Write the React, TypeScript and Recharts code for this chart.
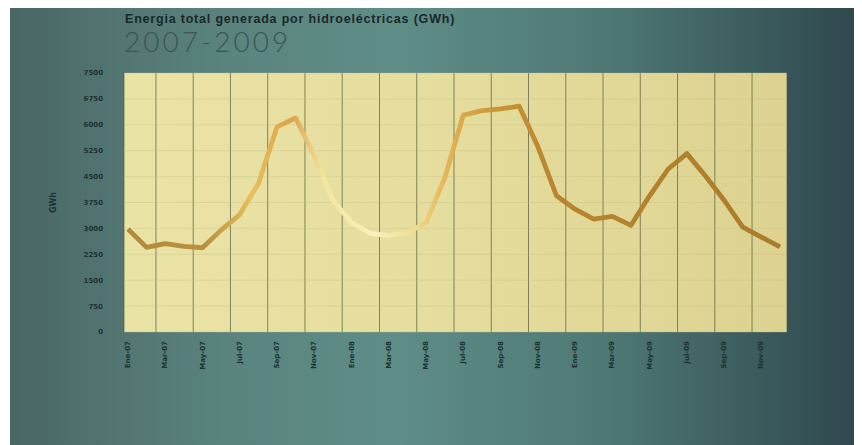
import React from "react";
import { LineChart, Line, XAxis, YAxis, CartesianGrid } from "recharts";

const months = [
  "Ene-07", "Feb-07", "Mar-07", "Abr-07", "May-07", "Jun-07", "Jul-07", "Ago-07", "Sep-07", "Oct-07", "Nov-07", "Dic-07",
  "Ene-08", "Feb-08", "Mar-08", "Abr-08", "May-08", "Jun-08", "Jul-08", "Ago-08", "Sep-08", "Oct-08", "Nov-08", "Dic-08",
  "Ene-09", "Feb-09", "Mar-09", "Abr-09", "May-09", "Jun-09", "Jul-09", "Ago-09", "Sep-09", "Oct-09", "Nov-09", "Dic-09",
];

const energyGWh = [
  2980, 2450, 2560, 2480, 2440, 2950, 3400, 4300, 5940, 6200, 5110, 3815,
  3165, 2855, 2790, 2880, 3165, 4460, 6280, 6410, 6460, 6540, 5370, 3945,
  3555, 3270, 3350, 3090, 3945, 4720, 5165, 4515, 3815, 3035, 2750, 2465,
];

const labelTicks = [0, 2, 4, 6, 8, 10, 12, 14, 16, 18, 20, 22, 24, 26, 28, 30, 32, 34];
const gridTicks = [1.5, 3.5, 5.5, 7.5, 9.5, 11.5, 13.5, 15.5, 17.5, 19.5, 21.5, 23.5, 25.5, 27.5, 29.5, 31.5, 33.5];
const yTicks = [0, 750, 1500, 2250, 3000, 3750, 4500, 5250, 6000, 6750, 7500];

const title = "Energia total generada por hidroeléctricas (GWh)";
const subtitle = "2007-2009";
const yLabel = "GWh";

const data = months.map((m, i) => ({ idx: i, month: m, value: energyGWh[i] }));

const XTick = (props: any) => {
  const { x, y, payload } = props;
  return (
    <text
      x={x}
      y={y}
      transform={`rotate(-90 ${x} ${y})`}
      textAnchor="end"
      dominantBaseline="central"
      fontSize={7}
      fontWeight="bold"
      fontFamily="DejaVu Sans, sans-serif"
      fill="#1d3233"
    >
      {months[payload.value]}
    </text>
  );
};

export default function App() {
  return (
    <div
      style={{
        position: "relative",
        width: 852,
        height: 437,
        marginLeft: 2,
        background:
          "linear-gradient(90deg, #4a6764 0%, #5a837e 25%, #5f8d87 45%, #4e7874 70%, #2e474d 100%)",
        overflow: "hidden",
      }}
    >
      <div
        style={{
          position: "absolute",
          left: 115,
          top: 4,
          fontFamily: "Liberation Sans, Arial, sans-serif",
          fontWeight: "bold",
          fontSize: 12.5,
          letterSpacing: 0.8,
          color: "#1a2828",
          whiteSpace: "nowrap",
        }}
      >
        {title}
      </div>
      <div
        style={{
          position: "absolute",
          left: 114,
          top: 16,
          fontFamily: "Lato, sans-serif",
          fontWeight: 300,
          fontSize: 28,
          letterSpacing: 3,
          color: "#3a5654",
          whiteSpace: "nowrap",
        }}
      >
        {subtitle}
      </div>
      <LineChart
        width={852}
        height={437}
        data={data}
        margin={{ top: 65, right: 75, bottom: 83, left: 30 }}
      >
        <defs>
          <linearGradient id="plotBg" x1="0" y1="0" x2="1" y2="0">
            <stop offset="0%" stopColor="#eae3a6" />
            <stop offset="45%" stopColor="#e6de9e" />
            <stop offset="100%" stopColor="#ddd290" />
          </linearGradient>
          <linearGradient id="lineGrad" x1="0" y1="0" x2="1" y2="0">
            <stop offset="0%" stopColor="#b08a3a" />
            <stop offset="12%" stopColor="#bb9140" />
            <stop offset="19%" stopColor="#e6c05c" />
            <stop offset="25%" stopColor="#dca24c" />
            <stop offset="30%" stopColor="#f2e6a0" />
            <stop offset="38%" stopColor="#f8f2bc" />
            <stop offset="44%" stopColor="#f0dc8c" />
            <stop offset="49%" stopColor="#e2b454" />
            <stop offset="56%" stopColor="#c8973a" />
            <stop offset="65%" stopColor="#b8862e" />
            <stop offset="100%" stopColor="#ab7c2a" />
          </linearGradient>
        </defs>
        <XAxis
          xAxisId="grid"
          type="number"
          dataKey="idx"
          domain={[0, 35]}
          ticks={gridTicks}
          padding={{ left: 4, right: 7 }}
          hide
        />
        <CartesianGrid
          xAxisId="grid"
          fill="url(#plotBg)"
          horizontal={false}
          vertical={true}
          stroke="#4f5c40"
          strokeOpacity={0.7}
        />
        <CartesianGrid
          xAxisId="grid"
          horizontal={true}
          vertical={false}
          stroke="#c4bd85"
          strokeOpacity={0.35}
        />
        <XAxis
          type="number"
          dataKey="idx"
          domain={[0, 35]}
          ticks={labelTicks}
          interval={0}
          padding={{ left: 4, right: 7 }}
          axisLine={false}
          tickLine={false}
          tickSize={0}
          tickMargin={9}
          tick={<XTick />}
        />
        <YAxis
          width={84}
          domain={[0, 7500]}
          ticks={yTicks}
          interval={0}
          axisLine={false}
          tickLine={false}
          tickSize={0}
          tickMargin={21}
          tick={{ fontSize: 7, fill: "#1d3233", fontWeight: "bold", fontFamily: "DejaVu Sans, sans-serif" }}
          label={{
            value: yLabel,
            angle: -90,
            position: "insideLeft",
            offset: 13,
            style: { textAnchor: "middle", fontSize: 8, fontWeight: "bold", fill: "#1d3233", fontFamily: "DejaVu Sans, sans-serif" },
          }}
        />
        <Line
          type="linear"
          dataKey="value"
          stroke="url(#lineGrad)"
          strokeWidth={4.8}
          strokeLinejoin="round"
          dot={false}
          activeDot={false}
          isAnimationActive={false}
        />
      </LineChart>
    </div>
  );
}
